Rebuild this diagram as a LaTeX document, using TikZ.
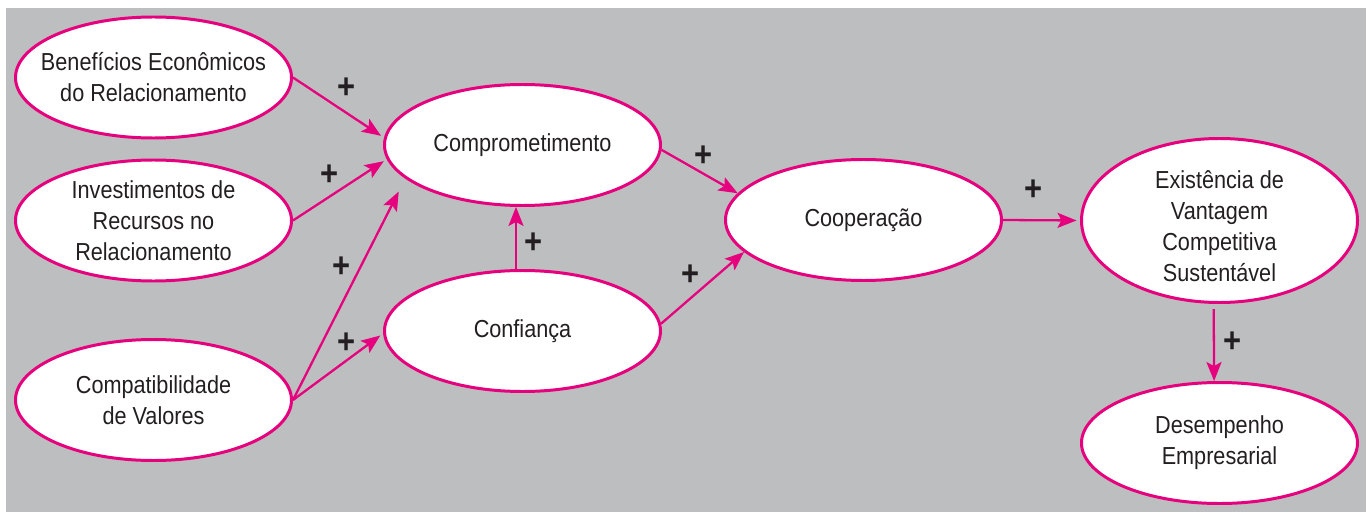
\documentclass[tikz,border=0pt]{standalone}
\usepackage{fontspec}
\setmainfont{Liberation Sans}[FakeStretch=0.88]
\usetikzlibrary{shapes, arrows.meta, calc, positioning}
\definecolor{rosa}{HTML}{E6007E}
\definecolor{fundo}{HTML}{BCBEC0}
\definecolor{texto}{HTML}{231F20}

\begin{document}
\begin{tikzpicture}[>={Stealth[length=3.8mm, width=3mm, inset=0.8mm]}]
    \tikzstyle{format} = [draw=rosa, line width=1.7pt, fill=white, ellipse,
	minimum width=5.52cm, minimum height=2.42cm, inner sep=-5mm,
	align=center, text=texto, font=\fontsize{14}{17.6}\selectfont]
    \tikzstyle{sinal} = [inner sep=0pt, text=texto,
	font=\bfseries\fontsize{20}{20}\selectfont]

	\useasboundingbox (0,0) rectangle (27.4,10.24);
	\fill[fundo] (0.12,0) rectangle (27.32,10.08);

		\path[->, rosa, line width=1.3pt]
			node[format] (1) at (3.07,8.69) {Benefícios Econômicos\\do Relacionamento}
			node[format] (2) at (3.07,5.83) {Investimentos de\\Recursos no\\Relacionamento}
			node[format] (3) at (3.07,2.24) {Compatibilidade\\de Valores}
			node[format] (4) at (10.45,7.34) {Comprometimento}
			node[format] (5) at (10.45,3.62) {Confiança}
			node[format] (6) at (17.27,5.84) {Cooperação}
			node[format, minimum height=3.28cm] (7) at (24.39,5.83)
				{\rule{0pt}{0.6cm}Existência de\\Vantagem\\Competitiva\\Sustentável}
			node[format] (8) at (24.39,1.38) {Desempenho\\Empresarial}

			node[sinal] (s1) at (6.94,8.48) {+}
			node[sinal] (s2) at (6.60,6.74) {+}
			node[sinal] (s3) at (6.84,4.90) {+}
			node[sinal] (s4) at (6.94,3.38) {+}
			node[sinal] (s5) at (10.68,5.38) {+}
			node[sinal] (s6) at (14.08,7.12) {+}
			node[sinal] (s7) at (13.82,4.74) {+}
			node[sinal] (s8) at (20.68,6.44) {+}
			node[sinal] (s9) at (24.66,3.40) {+}

			(1.east) edge[shorten >=2pt] (4.177)
			(2.east) edge[shorten >=2pt] (4.186)
			(3.east) edge[shorten >=2.9mm] (4.196)
			(3.east) edge[shorten >=2pt] (5.181)
			(5.96) edge (4.264)
			(4.358) edge (6.168)
			(5.3) edge (6.195)
			(6.east) edge[shorten >=2pt] (7.west)
			(7.266) edge[shorten <=3pt] (8.95)
		;

\end{tikzpicture}
\end{document}
